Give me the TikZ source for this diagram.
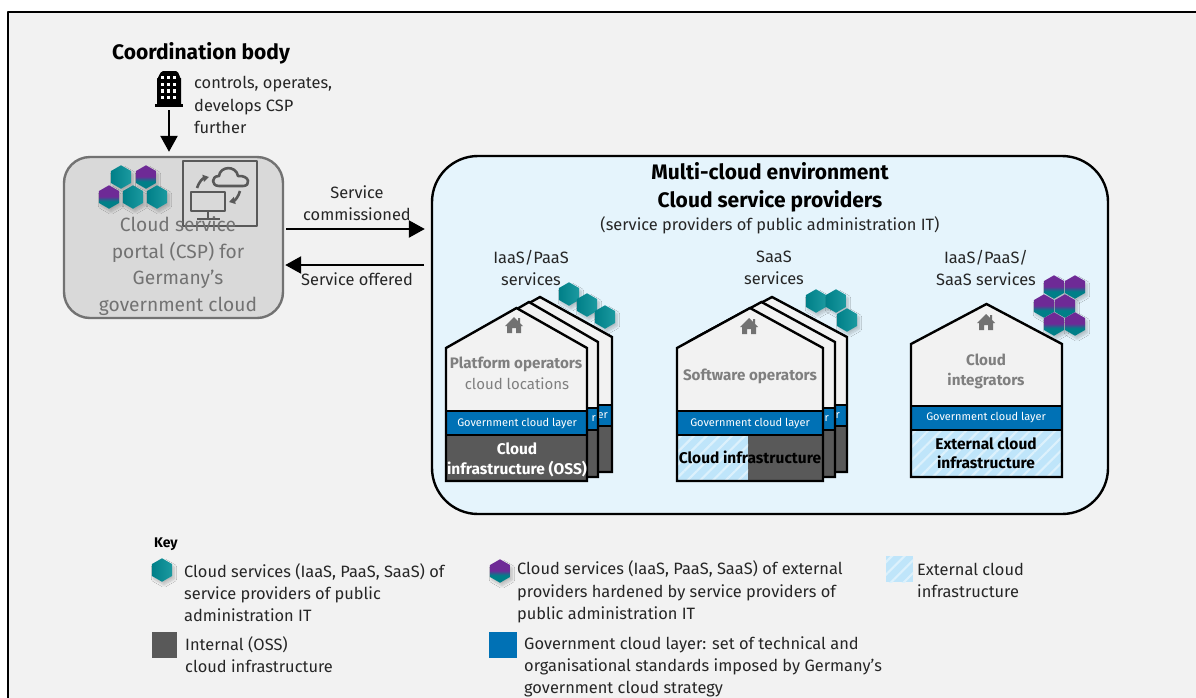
\documentclass[tikz,border=0pt]{standalone}
\usepackage{fontspec}
\setmainfont{Fira Sans}
\usetikzlibrary{arrows.meta,shapes.geometric,shadows.blur,patterns.meta}
\definecolor{bgGrey}{HTML}{F2F2F2}
\definecolor{portalGrey}{HTML}{D9D9D9}
\definecolor{darkGrey}{HTML}{595959}
\definecolor{midGrey}{HTML}{7F7F7F}
\definecolor{envBlue}{HTML}{E5F4FC}
\definecolor{layerBlue}{HTML}{0071B5}
\definecolor{hatchBlue}{HTML}{BFE5FA}
\definecolor{hexTeal}{HTML}{007F88}
\definecolor{hexTealLight}{HTML}{1C9AA0}
\definecolor{hexPurple}{HTML}{6E2A96}
\pgfdeclareverticalshading{hexsplit}{100bp}{color(0bp)=(hexTeal); color(41bp)=(hexTeal); color(51bp)=(hexPurple); color(100bp)=(hexPurple)}
\tikzset{
	hexshape/.style={regular polygon, regular polygon sides=6, shape border rotate=90, minimum size=#1, inner sep=0pt, blur shadow={shadow xshift=2pt, shadow yshift=-3pt, shadow blur radius=2.5pt, shadow blur steps=10, shadow opacity=22}},
	hexteal/.style={hexshape=23.5pt, left color=hexTeal, right color=hexTealLight},
	hexpurple/.style={hexshape=23.5pt, shading=hexsplit},
	hatched/.style={pattern={Lines[angle=45,distance=9pt,line width=2.2pt]}, pattern color=white!45!hatchBlue, preaction={fill=hatchBlue}},
	outline/.style={draw=black, line width=2.4pt, line join=miter},
	plain/.style={font=\fontsize{16.4}{22.3}\selectfont, align=left, inner sep=0pt, text=black!85},
	middletext/.style={plain, align=center},
	headline/.style={font=\fontsize{21}{28}\selectfont\bfseries, align=center, inner sep=0pt, text=black},
	greybold/.style={font=\fontsize{15.2}{20}\selectfont\bfseries, align=center, inner sep=0pt, text=midGrey},
	greythin/.style={font=\fontsize{15}{20}\selectfont, align=center, inner sep=0pt, text=midGrey},
	blackbold/.style={font=\fontsize{15.5}{19.5}\selectfont\bfseries, align=center, inner sep=0pt, text=black},
	whitebold/.style={font=\fontsize{15.5}{20}\selectfont\bfseries, align=center, inner sep=0pt, text=white},
	layertext/.style={font=\fontsize{11}{13}\selectfont, inner sep=0pt, text=white},
	arrowline/.style={line width=2.4pt, -{Triangle[length=16pt,width=17pt]}},
	icon/.style={draw=darkGrey, line width=2.6pt},
}
\begin{document}
\begin{tikzpicture}[x=1pt, y=-1pt, line join=round, >=stealth]
	\def\Wd{1196} \def\Ht{697}
	\useasboundingbox (0,0) rectangle (\Wd,\Ht);
	\fill[white] (0,0) rectangle (\Wd,\Ht);
	\begin{scope}
		\clip (0,0) rectangle (\Wd,\Ht);
		\draw[fill=bgGrey, line width=2.4pt] (8,12) rectangle (\Wd+5,\Ht+5);
	\end{scope}
	% coordination body
	\node[headline] (coord) at (201,53) {Coordination body};
	\node[plain, anchor=west] (controls) at (194,105) {controls, operates,\\develops CSP\\further};
	\fill[black] (157,105) -- (157,78) to[out=-80,in=180] (163,71) -- (176,71) to[out=0,in=-100] (181,78) -- (181,105) -- cycle;
	\fill[black] (155,104) rectangle (183,107);
	\foreach \r in {0,1,2,3} \foreach \c in {0,1,2}
		\fill[white] (161+\c*6.2,76+\r*6.6) rectangle +(3,3.4);
	% portal
	\node[draw=darkGrey!85, fill=portalGrey, line width=2.4pt, rounded corners=26pt, minimum width=219pt, minimum height=161pt, inner sep=0pt] (csp) at (173.5,237.5) {};
	\coordinate (bodyfoot) at (169,110);
	\draw[arrowline, shorten >=4pt] (bodyfoot) -- (csp.north -| bodyfoot);
	\node[hexteal] (h1) at (121,177) {};
	\node[hexpurple] (h2) at (146,177) {};
	\node[hexpurple] (h3) at (109,197) {};
	\node[hexteal] (h4) at (133,197) {};
	\node[hexteal] (h5) at (157,197) {};
	\draw[icon] (183,161) rectangle (257,226);
	\draw[icon] (191,192) rectangle (225,211);
	\draw[icon] (208,211) -- (208,218) (197,219) -- (220,219);
	\draw[icon] (219,186) .. controls (211,186) and (211,176) .. (219,176) .. controls (220,166) and (236,165) .. (238,176) .. controls (250,175) and (251,186) .. (243,186) -- cycle;
	\draw[icon, -{Triangle[length=6pt,width=7pt]}] (197,188) to[bend left=30] (209,177);
	\draw[icon, -{Triangle[length=6pt,width=7pt]}] (240,191) to[bend left=30] (229,202);
	\node[font=\fontsize{19.2}{26.7}\selectfont, align=center, inner sep=0pt, text=midGrey!90!black] (csptext) at (178,266) {Cloud service\\portal (CSP) for\\Germany’s\\government cloud};
	% arrows
	\node[draw=black, fill=envBlue, line width=2.4pt, rounded corners=46pt, minimum width=676pt, minimum height=358pt, inner sep=0pt] (env) at (770,335) {};
	\coordinate (commStart) at (286,229);
	\coordinate (offerStart) at (424,265);
	\draw[arrowline, shorten >=6pt] (commStart) -- (commStart -| env.west);
	\draw[arrowline, shorten >=1pt] (offerStart) -- (offerStart -| csp.east);
	\node[middletext] (comm) at (357,203.5) {Service\\commissioned};
	\node[middletext] (offer) at (357,279) {Service offered};
	% environment
	\node[headline] (envtitle) at (770,187) {Multi-cloud environment\\Cloud service providers};
	\node[middletext] (envsub) at (770,225) {(service providers of public administration IT)};
	\node[middletext] (svc1) at (531,268) {IaaS/PaaS\\services};
	\node[middletext] (svc2) at (774,268) {SaaS\\services};
	\node[middletext] (svc3) at (986,268) {IaaS/PaaS/\\SaaS services};
	% #1 left, #2 right, #3 apex y, #4 shoulder, #5 layer top, #6 layer bottom, #7 bottom
	\def\housebody#1#2#3#4#5#6#7{
		\fill[bgGrey] (#1,#4) -- ({(#1+#2)/2},#3) -- (#2,#4) -- (#2,#7) -- (#1,#7) -- cycle;
		\fill[layerBlue] (#1,#5) rectangle (#2,#6);
	}
	\def\houseline#1#2#3#4#5#6#7{
		\draw[outline] (#1,#4) -- ({(#1+#2)/2},#3) -- (#2,#4) -- (#2,#7) -- (#1,#7) -- cycle;
		\draw[outline] (#1,#5) -- (#2,#5) (#1,#6) -- (#2,#6);
	}
	\def\homeicon#1#2{
		\fill[darkGrey!85] (#1-9,#2+1) -- (#1,#2-8) -- (#1+4,#2-4) -- (#1+4,#2-7) -- (#1+6,#2-7) -- (#1+6,#2-2) -- (#1+9,#2+1) -- (#1+7,#2+1) -- (#1+7,#2+8) -- (#1+2,#2+8) -- (#1+2,#2+3) -- (#1-2,#2+3) -- (#1-2,#2+8) -- (#1-7,#2+8) -- (#1-7,#2+1) -- cycle;
	}
	% houses behind the front ones
	\foreach \l/\r/\a/\s/\t/\u/\b/\w/\e in {468/612/297/337/405/426/472/er/608,460/598/302/342/408/430/477/r/596,697/847/297/337/405/426/472/er/840,688/835/302/342/408/430/477/r/829}{
		\housebody{\l}{\r}{\a}{\s}{\t}{\u}{\b}
		\fill[darkGrey] (\l,\u) rectangle (\r,\b);
		\houseline{\l}{\r}{\a}{\s}{\t}{\u}{\b}
		\node[layertext, anchor=east] (back\l) at (\e,{(\t+\u)/2}) {\w};
	}
	% first stack
	\housebody{446}{587}{308}{348}{411}{435}{481}
	\fill[darkGrey] (446,435) rectangle (587,481);
	\houseline{446}{587}{308}{348}{411}{435}{481}
	\node[layertext] (layera) at (517,423.5) {Government cloud layer};
	\homeicon{514}{325}
	\node[hexteal] (s1) at (569,294) {};
	\node[hexteal] (s2) at (587,305) {};
	\node[hexteal] (s3) at (605,317) {};
	\node[greybold] (plat) at (516,364) {Platform operators};
	\node[greythin] (loc) at (517,384) {cloud locations};
	\node[whitebold] (oss) at (517,460) {Cloud\\infrastructure (OSS)};
	% second stack
	\housebody{677}{823}{308}{348}{411}{435}{481}
	\fill[darkGrey] (748,435) rectangle (823,481);
	\path[hatched] (677,435) rectangle (748,481);
	\houseline{677}{823}{308}{348}{411}{435}{481}
	\node[layertext] (layerb) at (750,423.5) {Government cloud layer};
	\homeicon{749}{326}
	\node[hexteal] (s4) at (816,301) {};
	\node[hexteal] (s5) at (836,301) {};
	\node[hexteal] (s6) at (847,320) {};
	\node[greybold] (soft) at (750,376) {Software operators};
	\node[blackbold] (mixed) at (750,457) {Cloud infrastructure};
	% third house
	\housebody{911}{1062}{304}{344}{406}{430}{477}
	\path[hatched] (911,430) rectangle (1062,477);
	\houseline{911}{1062}{304}{344}{406}{430}{477}
	\node[layertext] (layerc) at (986,418) {Government cloud layer};
	\homeicon{986}{322}
	\node[hexpurple] (p1) at (1054,287) {};
	\node[hexpurple] (p2) at (1075,287) {};
	\node[hexpurple] (p3) at (1044,306) {};
	\node[hexpurple] (p4) at (1065,306) {};
	\node[hexpurple] (p5) at (1054,324) {};
	\node[hexpurple] (p6) at (1075,324) {};
	\node[greybold] (integ) at (986,371) {Cloud\\integrators};
	\node[blackbold] (ext) at (986,453) {External cloud\\infrastructure};
	% key
	\node[font=\fontsize{14}{16}\selectfont\bfseries, inner sep=0pt, anchor=west] (key) at (154,544.5) {Key};
	\node[hexteal] (k1) at (162,570) {};
	\node[plain, anchor=west] (k1text) at (184,592.5) {Cloud services (IaaS, PaaS, SaaS) of\\service providers of public\\administration IT};
	\node[fill=darkGrey, minimum width=25pt, minimum height=26pt, inner sep=0pt] (k2) at (164.5,645) {};
	\node[plain, anchor=west] (k2text) at (185,654.5) {Internal (OSS)\\cloud infrastructure};
	\node[hexpurple] (k3) at (500,571) {};
	\node[plain, anchor=west] (k3text) at (517,592) {Cloud services (IaaS, PaaS, SaaS) of external\\providers hardened by service providers of\\public administration IT};
	\node[fill=layerBlue, minimum width=28pt, minimum height=26pt, inner sep=0pt] (k4) at (503,645) {};
	\node[plain, anchor=west] (k4text) at (524,667) {Government cloud layer: set of technical and\\organisational standards imposed by Germany’s\\government cloud strategy};
	\node[hatched, minimum width=27pt, minimum height=26pt, inner sep=0pt] (k5) at (899.5,569) {};
	\node[plain, anchor=west] (k5text) at (917,580.5) {External cloud\\infrastructure};
\end{tikzpicture}
\end{document}
